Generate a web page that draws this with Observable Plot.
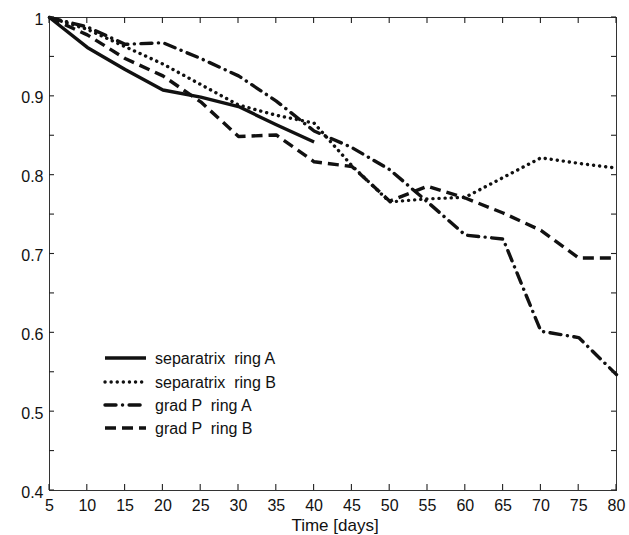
<!DOCTYPE html>
<html>
<head>
<meta charset="utf-8">
<script src="https://cdn.jsdelivr.net/npm/d3@7"></script>
<script src="https://cdn.jsdelivr.net/npm/@observablehq/plot@0.6"></script>
<style>
  html, body { margin: 0; padding: 0; background: white; }
  #chart { width: 629px; height: 535px; }
</style>
</head>
<body>
<div id="chart"></div>
<script>
// ---- data ----
const days = [5, 10, 15, 20, 25, 30, 35, 40, 45, 50, 55, 60, 65, 70, 75, 80];
const sepA = [1, 0.962, 0.934, 0.908, 0.899, 0.887, 0.864, 0.842];
const sepB = [1, 0.985, 0.963, 0.941, 0.915, 0.889, 0.876, 0.866, 0.812, 0.766, 0.770, 0.772, 0.797, 0.822, 0.815, 0.809];
const gradA = [1, 0.988, 0.966, 0.968, 0.948, 0.926, 0.894, 0.856, 0.835, 0.807, 0.766, 0.724, 0.719, 0.602, 0.594, 0.547];
const gradB = [1, 0.978, 0.948, 0.926, 0.893, 0.849, 0.851, 0.817, 0.811, 0.767, 0.786, 0.771, 0.752, 0.730, 0.695, 0.695];
const seriesNames = ["separatrix  ring A", "separatrix  ring B", "grad P  ring A", "grad P  ring B"];
const xTicks = [5, 10, 15, 20, 25, 30, 35, 40, 45, 50, 55, 60, 65, 70, 75, 80];
const yTicks = [0.4, 0.5, 0.6, 0.7, 0.8, 0.9, 1];
const yMinor = [0.4, 0.45, 0.5, 0.55, 0.6, 0.65, 0.7, 0.75, 0.8, 0.85, 0.9, 0.95, 1];
const xLabel = "Time [days]";

// ---- layout ----
const W = 629, H = 535;
const mL = 49, mR = 13, mT = 17, mB = 45;
const tickLen = 6;

// ---- styles ----
const styles = [
  {dash: null, cap: "butt"},
  {dash: "0.1 6", cap: "round"},
  {dash: "11 6.5 0.1 6.5", cap: "round"},
  {dash: "11 6", cap: "butt"}
];
const ink = "#111";
const lw = 3.4;

const allSeries = [sepA, sepB, gradA, gradB];
const tables = allSeries.map((vals, k) => vals.map((v, i) => ({day: days[i], value: v, series: seriesNames[k]})));

const lineMarks = tables.map((t, k) => Plot.line(t, {
  x: "day", y: "value", stroke: ink, strokeWidth: lw,
  strokeDasharray: styles[k].dash, strokeLinecap: styles[k].cap, strokeLinejoin: "round"
}));

const chart = Plot.plot({
  width: W, height: H,
  marginLeft: mL, marginRight: mR, marginTop: mT, marginBottom: mB,
  x: {type: "linear", domain: [5, 80]},
  y: {type: "linear", domain: [0.4, 1]},
  style: {fontFamily: "'Liberation Sans', Arial, Helvetica, sans-serif", fontSize: "16px", color: ink, background: "white"},
  marks: [
    Plot.axisX({anchor: "bottom", ticks: xTicks, tickSize: 0, tickPadding: 9, tickFormat: d => String(d), label: null}),
    Plot.axisY({anchor: "left", ticks: yTicks, tickSize: 0, tickPadding: 6, tickFormat: d => d === 1 ? "1" : d.toFixed(1), label: null, dy: 2}),
    Plot.text([xLabel], {frameAnchor: "bottom", dy: 35, dx: 2, lineAnchor: "middle", fontSize: 17, fill: ink}),
    Plot.frame({stroke: "#333", strokeWidth: 1}),
    ...lineMarks
  ]
});

document.getElementById("chart").appendChild(chart);

// inward tick marks on all four sides, positioned with Plot's own scales
{
  const sx = chart.scale("x"), sy = chart.scale("y");
  const g = d3.select(chart).append("g").attr("class", "inner-ticks").attr("stroke", "#222").attr("stroke-width", 1.1);
  const top = mT, bottom = H - mB, left = mL, right = W - mR;
  xTicks.forEach(t => {
    const x = sx.apply(t);
    g.append("line").attr("x1", x).attr("x2", x).attr("y1", bottom).attr("y2", bottom - tickLen);
    g.append("line").attr("x1", x).attr("x2", x).attr("y1", top).attr("y2", top + tickLen);
  });
  yMinor.forEach(v => {
    const y = sy.apply(v);
    g.append("line").attr("x1", left).attr("x2", left + 5).attr("y1", y).attr("y2", y);
    g.append("line").attr("x1", right).attr("x2", right - 5).attr("y1", y).attr("y2", y);
  });
}

// ---- legend (inside the plot area) ----
const svg = d3.select(chart);
const lg = svg.append("g").attr("class", "legend").attr("text-anchor", "start");
const rowsY = [358, 382, 405, 428];
seriesNames.forEach((name, k) => {
  lg.append("line")
    .attr("x1", 105).attr("x2", 146).attr("y1", rowsY[k]).attr("y2", rowsY[k])
    .attr("stroke", ink).attr("stroke-width", lw)
    .attr("stroke-dasharray", styles[k].dash)
    .attr("stroke-linecap", styles[k].cap);
  lg.append("text")
    .attr("x", 155).attr("y", rowsY[k]).attr("dy", "0.35em")
    .attr("text-anchor", "start")
    .attr("font-size", 16)
    .attr("fill", ink)
    .style("white-space", "pre")
    .attr("xml:space", "preserve")
    .text(name);
});
</script>
</body>
</html>
